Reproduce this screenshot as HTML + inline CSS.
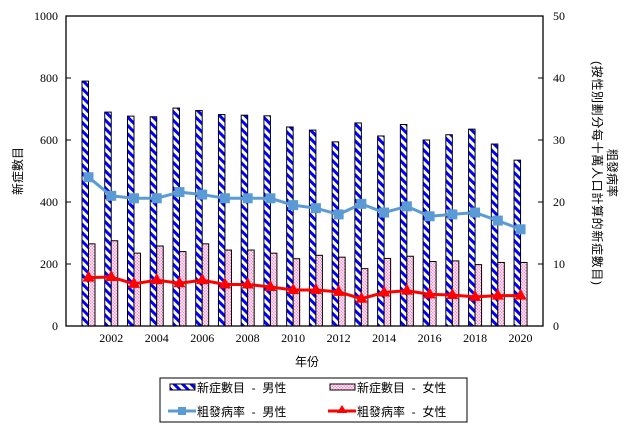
<!DOCTYPE html>
<html><head><meta charset="utf-8"><style>body{margin:0;background:#fff}svg{display:block}text{font-family:"Liberation Serif","Noto Sans CJK TC",serif;font-size:12px}.cjk{font-family:"Liberation Sans","Noto Sans CJK TC",sans-serif;white-space:pre}</style></head><body>
<svg width="625" height="443" viewBox="0 0 625 443" xmlns="http://www.w3.org/2000/svg">
<defs>
<pattern id="pm" width="6" height="6" patternUnits="userSpaceOnUse" patternTransform="rotate(-45)"><rect width="6" height="6" fill="#fff"/><rect width="3" height="6" fill="#0000ff"/></pattern>
<pattern id="pf" width="3" height="3" patternUnits="userSpaceOnUse"><rect width="3" height="3" fill="#fff"/><rect width="1.5" height="1.5" fill="#ff88cc"/><rect x="1.5" y="1.5" width="1.5" height="1.5" fill="#ff88cc"/></pattern>
</defs>
<g id="bars"></g>
<rect x="66" y="16" width="477" height="310" fill="none" stroke="#000" stroke-width="1.3"/>
<g id="axes"></g>
<g id="lines"></g>
<text x="307" y="366" class="cjk" text-anchor="middle">年份</text>
<text transform="translate(22,171) rotate(-90)" class="cjk" text-anchor="middle">新症數目</text>
<text transform="translate(608,173) rotate(90)" class="cjk" text-anchor="middle">粗發病率</text>
<text transform="translate(593,173) rotate(90)" class="cjk" text-anchor="middle" textLength="224">(按性別劃分每十萬人口計算的新症數目)</text>
<rect x="160" y="378" width="307" height="44" fill="#fff" stroke="#000"/>
<rect x="170" y="384" width="25" height="6" fill="url(#pm)" stroke="#000"/>
<text x="197" y="392" class="cjk">新症數目  -  男性</text>
<rect x="330" y="384" width="25" height="6" fill="url(#pf)" stroke="#000"/>
<text x="357" y="392" class="cjk">新症數目  -  女性</text>
<line x1="168" y1="411" x2="196" y2="411" stroke="#5b9bd5" stroke-width="3"/><rect x="178" y="407" width="8" height="8" fill="#5b9bd5"/>
<text x="197" y="416" class="cjk">粗發病率  -  男性</text>
<line x1="328" y1="411" x2="356" y2="411" stroke="#f00" stroke-width="3"/><polygon points="342,405 347,413 337,413" fill="#f00"/>
<text x="357" y="416" class="cjk">粗發病率  -  女性</text>
</svg>
<script>
const m=[790,690,677,675,703,695,682,680,678,642,632,594,655,613,650,600,617,635,587,535];
const f=[265,275,235,258,240,265,245,245,235,217,228,222,185,218,225,208,210,198,205,205];
const rm=[24,21,20.6,20.6,21.6,21.2,20.6,20.6,20.6,19.5,19,18,19.7,18.3,19.3,17.7,18,18.3,17,15.6];
const rf=[7.8,7.9,6.8,7.4,6.9,7.4,6.7,6.7,6.3,5.8,5.8,5.5,4.4,5.4,5.7,5.1,5.0,4.7,4.9,4.9];
const NS="http://www.w3.org/2000/svg";
function el(p,t,a,txt){const e=document.createElementNS(NS,t);for(const k in a)e.setAttribute(k,a[k]);if(txt)e.textContent=txt;document.getElementById(p).appendChild(e);return e;}
const Y=v=>326-v*0.31, R=v=>326-v*6.2, X=i=>88.5+i*22.74;
for(let i=0;i<20;i++){
 el("bars","rect",{x:X(i)-6.5,y:Y(m[i]),width:6.5,height:m[i]*0.31,fill:"url(#pm)",stroke:"#000","stroke-width":1});
 el("bars","rect",{x:X(i),y:Y(f[i]),width:6.5,height:f[i]*0.31,fill:"url(#pf)",stroke:"#000","stroke-width":1});
}
for(let k=0;k<=5;k++){
 const y=326-k*62;
 el("axes","line",{x1:66,y1:y,x2:71,y2:y,stroke:"#000"});
 el("axes","line",{x1:538,y1:y,x2:543,y2:y,stroke:"#000"});
 el("axes","text",{x:58,y:y+4,"text-anchor":"end"},String(k*200));
 el("axes","text",{x:553,y:y+4},String(k*10));
}
for(let i=1;i<20;i+=2) el("axes","text",{x:X(i),y:342,"text-anchor":"middle"},String(2001+i));
el("lines","polyline",{points:rm.map((v,i)=>X(i)+","+R(v)).join(" "),fill:"none",stroke:"#5b9bd5","stroke-width":3});
el("lines","polyline",{points:rf.map((v,i)=>X(i)+","+R(v)).join(" "),fill:"none",stroke:"#f00","stroke-width":3});
rm.forEach((v,i)=>el("lines","rect",{x:X(i)-5,y:R(v)-5,width:10,height:10,fill:"#5b9bd5"}));
rf.forEach((v,i)=>el("lines","polygon",{points:`${X(i)},${R(v)-7} ${X(i)+6},${R(v)+4} ${X(i)-6},${R(v)+4}`,fill:"#f00"}));
</script>
</body></html>
